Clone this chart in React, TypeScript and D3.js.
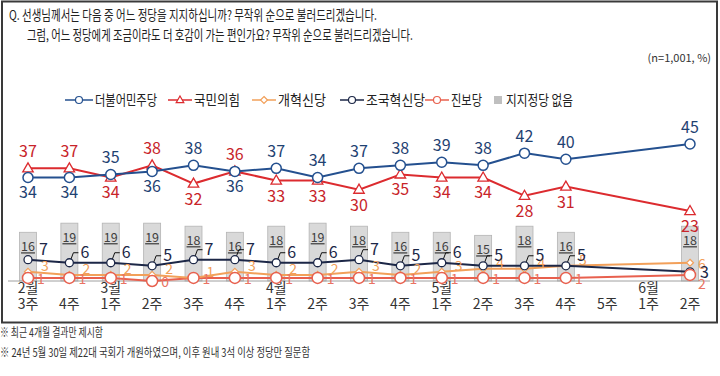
import React from "react";
import * as d3 from "d3";

const months = ["2월", "", "3월", "", "", "", "4월", "", "", "", "5월", "", "", "", "", "6월", ""];
const weeks = ["3주", "4주", "1주", "2주", "3주", "4주", "1주", "2주", "3주", "4주", "1주", "2주", "3주", "4주", "5주", "1주", "2주"];

const minjoo = [34, 34, 35, 36, 38, 36, 37, 34, 37, 38, 39, 38, 42, 40, null, null, 45];
const ppp = [37, 37, 34, 38, 32, 36, 33, 33, 30, 35, 34, 34, 28, 31, null, null, 23];
const reform = [3, 2, 2, 2, 1, 3, 2, 2, 3, 2, 3, 4, 4, 5, null, null, 6];
const jokuk = [7, 6, 6, 5, 7, 7, 6, 6, 7, 5, 6, 5, 5, 5, null, null, 3];
const jinbo = [1, 1, 1, 0, 1, 1, 1, 1, 1, 1, 1, 1, 1, 1, null, null, 2];
const noParty = [16, 19, 19, 19, 18, 16, 18, 19, 18, 16, 16, 15, 18, 16, null, null, 18];

const legendNames = ["더불어민주당", "국민의힘", "개혁신당", "조국혁신당", "진보당", "지지정당 없음"];

const FONT = "'Noto Sans CJK KR', 'Noto Sans', sans-serif";
const C = {
  blue: "#24508f",
  blueText: "#1f4272",
  red: "#dc2b2f",
  redText: "#c8242a",
  orange: "#f2a05a",
  navy: "#1c2747",
  jinbo: "#e8604e",
  jinboText: "#ea7363",
  bar: "#d9d9d9",
  barStroke: "#b4b4b4",
};

// legend layout (positions / text widths)
const legendX = [65, 168, 252, 340, 425];
const legendTextW = [62, 46, 48, 59, 31, 67];

type Pt = { i: number; v: number };
const pts = (arr: (number | null)[]): Pt[] =>
  arr.map((v, i) => ({ i, v: v as number })).filter((d) => arr[d.i] !== null);

export default function App() {
  const x = d3.scalePoint<number>().domain(d3.range(weeks.length)).range([28, 690]);
  const y = d3.scaleLinear().domain([0, 45]).range([281, 144]);
  const line = d3
    .line<Pt>()
    .x((d) => x(d.i)!)
    .y((d) => y(d.v));
  const barW = 17;

  const legendColors = [C.blue, C.red, C.orange, C.navy, C.jinbo];

  const tri = (cx: number, cy: number, s: number) =>
    `M${cx},${cy - s} L${cx + s * 0.95},${cy + s * 0.65} L${cx - s * 0.95},${cy + s * 0.65} Z`;
  const diamond = (cx: number, cy: number, s: number) =>
    `M${cx},${cy - s} L${cx + s},${cy} L${cx},${cy + s} L${cx - s},${cy} Z`;

  const lastIdx = weeks.length - 1;

  return (
    <svg width={720} height={376} style={{ position: "absolute", left: 0, top: 0, fontFamily: FONT }}>
      <rect x={0} y={0} width={720} height={376} fill="#fff" />
      <rect x={2} y={1.5} width={715} height={321} fill="none" stroke="#3a3a3a" strokeWidth={2} />

      {/* header */}
      <text x={9} y={20} fontSize={13.5} fill="#222" textLength={368} lengthAdjust="spacingAndGlyphs">
        Q. 선생님께서는 다음 중 어느 정당을 지지하십니까? 무작위 순으로 불러드리겠습니다.
      </text>
      <text x={27} y={40} fontSize={13.5} fill="#222" textLength={386} lengthAdjust="spacingAndGlyphs">
        그럼, 어느 정당에게 조금이라도 더 호감이 가는 편인가요? 무작위 순으로 불러드리겠습니다.
      </text>
      <text x={711} y={62} fontSize={11} fill="#333" textAnchor="end">
        (n=1,001, %)
      </text>

      {/* legend */}
      {legendColors.map((c, k) => {
        const lx = legendX[k];
        const w = k === 0 ? 28 : 24;
        const cx = lx + w / 2;
        return (
          <g key={k}>
            <line x1={lx} x2={lx + w} y1={100} y2={100} stroke={c} strokeWidth={1.5} />
            {k === 1 ? (
              <path d={tri(cx, 100, 4)} fill="#fff" stroke={c} strokeWidth={1.2} />
            ) : k === 2 ? (
              <path d={diamond(cx, 100, 3.5)} fill="#fff" stroke={c} strokeWidth={1.2} />
            ) : (
              <circle cx={cx} cy={100} r={3.5} fill="#fff" stroke={c} strokeWidth={1.2} />
            )}
            <text
              x={lx + w + 2}
              y={105}
              fontSize={14}
              fill="#222"
              textLength={legendTextW[k]}
              lengthAdjust="spacingAndGlyphs"
            >
              {legendNames[k]}
            </text>
          </g>
        );
      })}
      <rect x={494} y={96} width={8} height={8} fill="#bfbfbf" />
      <text x={506} y={105} fontSize={14} fill="#222" textLength={legendTextW[5]} lengthAdjust="spacingAndGlyphs">
        {legendNames[5]}
      </text>

      {/* bars */}
      {pts(noParty).map((d) => (
        <g key={"b" + d.i}>
          <rect
            x={x(d.i)! - barW / 2}
            y={y(d.v)}
            width={barW}
            height={y(0) - y(d.v)}
            fill={C.bar}
            stroke={C.barStroke}
            strokeWidth={0.8}
          />
          <text
            x={x(d.i)!}
            y={y(d.v) + 19}
            fontSize={12.5}
            fill="#404040"
            textAnchor="middle"
            textDecoration="underline"
          >
            {d.v}
          </text>
        </g>
      ))}

      {/* axis */}
      <line x1={8} x2={710} y1={y(0)} y2={y(0)} stroke="#a0a0a0" strokeWidth={1} />
      {weeks.map((w, i) => (
        <g key={"x" + i}>
          {months[i] && (
            <text x={x(i)!} y={293} fontSize={14} fill="#333" textAnchor="middle">
              {months[i]}
            </text>
          )}
          <text x={x(i)!} y={309} fontSize={14} fill="#333" textAnchor="middle">
            {w}
          </text>
        </g>
      ))}

      {/* 진보당 */}
      <path d={line(pts(jinbo))!} fill="none" stroke={C.jinbo} strokeWidth={2} />
      {/* 개혁신당 */}
      <path d={line(pts(reform))!} fill="none" stroke={C.orange} strokeWidth={2} />
      {pts(reform).map((d) => (
        <path key={"rd" + d.i} d={diamond(x(d.i)!, y(d.v), 3.5)} fill="#fff" stroke={C.orange} strokeWidth={1.2} />
      ))}
      {/* 조국혁신당 */}
      <path d={line(pts(jokuk))!} fill="none" stroke={C.navy} strokeWidth={2} />
      {pts(jokuk)
        .filter((d) => d.i !== 0 && d.i !== lastIdx)
        .map((d) => (
          <polyline
            key={"jld" + d.i}
            points={`${x(d.i)! + 1},${y(d.v) - 2} ${x(d.i)! + 4},${y(d.v) - 10} ${x(d.i)! + 9},${y(d.v) - 10}`}
            fill="none"
            stroke="#111"
            strokeWidth={1}
          />
        ))}
      {pts(jokuk).map((d) => (
        <circle key={"jc" + d.i} cx={x(d.i)!} cy={y(d.v)} r={4} fill="#fff" stroke={C.navy} strokeWidth={1.3} />
      ))}
      {pts(jinbo).map((d) => (
        <circle key={"pc" + d.i} cx={x(d.i)!} cy={y(d.v)} r={5.5} fill="#fff" stroke={C.jinbo} strokeWidth={1.5} />
      ))}

      {/* small labels */}
      {pts(jinbo).map((d) => (
        <text
          key={"pl" + d.i}
          x={x(d.i)! + (d.i === lastIdx ? 8 : 9)}
          y={y(d.v) + (d.i === lastIdx ? 14 : 6)}
          fontSize={14}
          fill={C.jinboText}
        >
          {d.v}
        </text>
      ))}
      {pts(reform).map((d) => (
        <text
          key={"rl" + d.i}
          x={x(d.i)! + (d.i === lastIdx ? 8 : 13)}
          y={y(d.v) + (d.i === lastIdx ? 6 : -1)}
          fontSize={14}
          fill={C.orange}
        >
          {d.v}
        </text>
      ))}
      {pts(jokuk).map((d) => (
        <text
          key={"jl" + d.i}
          x={x(d.i)! + (d.i === lastIdx ? 10 : 11)}
          y={y(d.v) + (d.i === lastIdx ? 6 : -5)}
          fontSize={16}
          fill={C.navy}
        >
          {d.v}
        </text>
      ))}

      {/* 국민의힘 */}
      <path d={line(pts(ppp))!} fill="none" stroke={C.red} strokeWidth={2} />
      {pts(ppp).map((d) => (
        <path key={"pt" + d.i} d={tri(x(d.i)!, y(d.v), 5.5)} fill="#fff" stroke={C.red} strokeWidth={1.3} />
      ))}
      {/* 더불어민주당 */}
      <path d={line(pts(minjoo))!} fill="none" stroke={C.blue} strokeWidth={2} />
      {pts(minjoo).map((d) => (
        <circle key={"mc" + d.i} cx={x(d.i)!} cy={y(d.v)} r={5} fill="#fff" stroke={C.blue} strokeWidth={1.5} />
      ))}

      {/* big labels */}
      {pts(minjoo).map((d) => {
        const above = d.v > (ppp[d.i] as number);
        return (
          <text
            key={"ml" + d.i}
            x={x(d.i)!}
            y={y(d.v) + (above ? -11 : 21)}
            fontSize={16}
            fill={C.blueText}
            textAnchor="middle"
          >
            {d.v}
          </text>
        );
      })}
      {pts(ppp).map((d) => {
        const above = d.v >= (minjoo[d.i] as number);
        return (
          <text
            key={"plb" + d.i}
            x={x(d.i)!}
            y={y(d.v) + (above ? -11 : 21)}
            fontSize={16}
            fill={C.redText}
            textAnchor="middle"
          >
            {d.v}
          </text>
        );
      })}

      {/* footnotes */}
      <text x={0} y={337} fontSize={12} fill="#333" textLength={103} lengthAdjust="spacingAndGlyphs">
        ※ 최근 4개월 결과만 제시함
      </text>
      <text x={0} y={357} fontSize={12} fill="#333" textLength={310} lengthAdjust="spacingAndGlyphs">
        ※ 24년 5월 30일 제22대 국회가 개원하였으며, 이후 원내 3석 이상 정당만 질문함
      </text>
    </svg>
  );
}
